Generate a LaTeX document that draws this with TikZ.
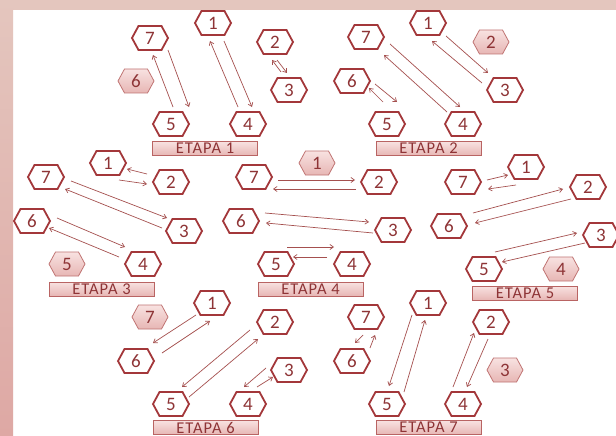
\documentclass[tikz,border=0pt]{standalone}
\usepackage{fontspec}
\setmainfont{Carlito}
\newfontfamily\etapafont[LetterSpace=6]{Carlito}
\usetikzlibrary{arrows.meta}
\definecolor{hexred}{HTML}{A3373A}
\definecolor{txtred}{HTML}{8E3436}
\definecolor{arrred}{HTML}{A5504F}
\definecolor{framec}{HTML}{E4C6BE}
\definecolor{framed}{HTML}{DEA8A4}
\definecolor{fillt}{HTML}{F8E2E1}
\definecolor{fillb}{HTML}{E7B6B4}
\definecolor{boxline}{HTML}{B96463}
\tikzset{
 hexpic/.pic={\path[pic actions] (-18,0) -- (-11.5,-12) -- (11.5,-12) -- (18,0) -- (11.5,12) -- (-11.5,12) -- cycle;},
 hexplain/.style={draw=hexred, line width=1.8pt, line join=miter},
 hexfilled/.style={draw=boxline!90, line width=0.8pt, top color=fillt, bottom color=fillb},
 num/.style={text=txtred, font=\fontsize{19}{19}\selectfont, inner sep=0pt},
 etapa/.style={draw=boxline, line width=0.8pt, top color=fillt, bottom color=fillb, minimum width=105pt, minimum height=14pt, inner sep=0pt, text=txtred, font=\etapafont\fontsize{16.5}{16.5}\selectfont},
 arrline/.style={draw=arrred, line width=0.7pt, -{Straight Barb[length=3.5pt,width=5pt]}},
}
\newcommand\hx[4][hexplain]{\pic[#1] at (#3) {hexpic}; \node[num] (#2) at (#3) {#4};}
\newcommand\conn[4]{\draw[arrline] ([shift={(#2)}]#1.center) -- ([shift={(#4)}]#3.center);}
\begin{document}
\begin{tikzpicture}[x=1pt,y=-1pt]
\useasboundingbox (0,0) rectangle (616,436);
% frame
\fill[white] (0,0) rectangle (616,436);
\fill[framec] (0,0) rectangle (616,10);
\shade[top color=framec, bottom color=framed] (0,0) rectangle (13,436);

% ETAPA 1
\hx{a7}{150,38}{7}
\hx{a1}{213,23}{1}
\hx{a2}{275,42}{2}
\hx{a3}{289,90}{3}
\hx[hexfilled]{a6}{136,81}{6}
\hx{a5}{171,124}{5}
\hx{a4}{248,124}{4}
\node[etapa] (A) at (205,148.5) {ETAPA 1};
\conn{a5}{2,-17}{a7}{3,17}
\conn{a7}{18,12}{a5}{18,-17}
\conn{a4}{-10,-17}{a1}{-3,18}
\conn{a1}{11,18}{a4}{4,-17}
\conn{a3}{-8,-18}{a2}{-3,18}
\conn{a2}{2,18}{a3}{-2,-17}

% ETAPA 2
\hx{b1}{428,23}{1}
\hx{b7}{366,37}{7}
\hx[hexfilled]{b2}{491,42}{2}
\hx{b6}{352,81}{6}
\hx{b3}{505,90}{3}
\hx{b5}{387,124}{5}
\hx{b4}{463,124}{4}
\node[etapa] (B) at (428.5,148.5) {ETAPA 2};
\conn{b1}{18,13}{b3}{-17,-17}
\conn{b3}{-23,-7}{b1}{4,18}
\conn{b7}{24,7}{b4}{-3,-17}
\conn{b4}{-16,-12}{b7}{18,18}
\conn{b6}{23,3}{b5}{10,-22}
\conn{b5}{-4,-22}{b6}{17,7}

% ETAPA 3
\hx{c1}{108,163}{1}
\hx{c7}{46,177}{7}
\hx{c2}{171,182}{2}
\hx{c6}{32,221}{6}
\hx{c3}{184,231}{3}
\hx[hexfilled]{c5}{67,264}{5}
\hx{c4}{143,264}{4}
\node[etapa] (C) at (101.5,289) {ETAPA 3};
\conn{c2}{-24,-8}{c1}{19,6}
\conn{c1}{11,17}{c2}{-24,2}
\conn{c7}{25,4}{c3}{-17,-13}
\conn{c3}{-22,-3}{c7}{19,12}
\conn{c6}{25,-3}{c4}{-18,-17}
\conn{c4}{-24,-7}{c6}{17,7}

% ETAPA 4
\hx[hexfilled]{d1}{317,163}{1}
\hx{d7}{254,177}{7}
\hx{d2}{379,182}{2}
\hx{d6}{241,221}{6}
\hx{d3}{393,230}{3}
\hx{d5}{276,264}{5}
\hx{d4}{352,264}{4}
\node[etapa] (D) at (310.5,289) {ETAPA 4};
\conn{d7}{24,3}{d2}{-24,-2}
\conn{d2}{-23,7}{d7}{19,12}
\conn{d6}{24,-8}{d3}{-24,-8}
\conn{d3}{-20,3}{d6}{25,2}
\conn{d5}{11,-17}{d4}{-18,-17}
\conn{d4}{-25,-7}{d5}{17,-7}

% ETAPA 5
\hx{e1}{526,167}{1}
\hx{e7}{463,182}{7}
\hx{e2}{588,187}{2}
\hx{e6}{449,226}{6}
\hx{e3}{601,235}{3}
\hx{e5}{484,269}{5}
\hx[hexfilled]{e4}{561,269}{4}
\node[etapa] (E) at (525,293) {ETAPA 5};
\conn{e7}{24,-2}{e1}{-18,8}
\conn{e1}{-10,18}{e7}{25,7}
\conn{e6}{24,-13}{e2}{-25,2}
\conn{e2}{-17,12}{e6}{26,-3}
\conn{e5}{11,-17}{e3}{-24,-2}
\conn{e3}{-16,8}{e5}{18,-7}

% ETAPA 6
\hx{f1}{212,303}{1}
\hx[hexfilled]{f7}{150,317}{7}
\hx{f2}{275,322}{2}
\hx{f6}{136,361}{6}
\hx{f3}{289,370}{3}
\hx{f5}{171,404}{5}
\hx{f4}{248,404}{4}
\node[etapa] (F) at (205.5,427.5) {ETAPA 6};
\conn{f1}{-16,12}{f6}{17,-18}
\conn{f6}{26,-8}{f1}{-2,18}
\conn{f2}{-25,8}{f5}{11,-17}
\conn{f5}{18,-7}{f2}{-17,17}
\conn{f3}{-23,-2}{f4}{-4,-17}
\conn{f4}{9,-17}{f3}{-16,7}

% ETAPA 7
\hx{g1}{428,303}{1}
\hx{g7}{366,317}{7}
\hx{g2}{491,322}{2}
\hx{g6}{352,361}{6}
\hx[hexfilled]{g3}{505,370}{3}
\hx{g5}{387,404}{5}
\hx{g4}{463,404}{4}
\node[etapa] (G) at (428.5,427.5) {ETAPA 7};
\conn{g1}{-16,12}{g5}{2,-18}
\conn{g5}{17,-12}{g1}{-3,17}
\conn{g4}{-10,-17}{g2}{-17,11}
\conn{g2}{-3,17}{g4}{4,-17}
\conn{g7}{-3,18}{g6}{3,-18}
\conn{g6}{18,-13}{g7}{9,18}
\end{tikzpicture}
\end{document}
